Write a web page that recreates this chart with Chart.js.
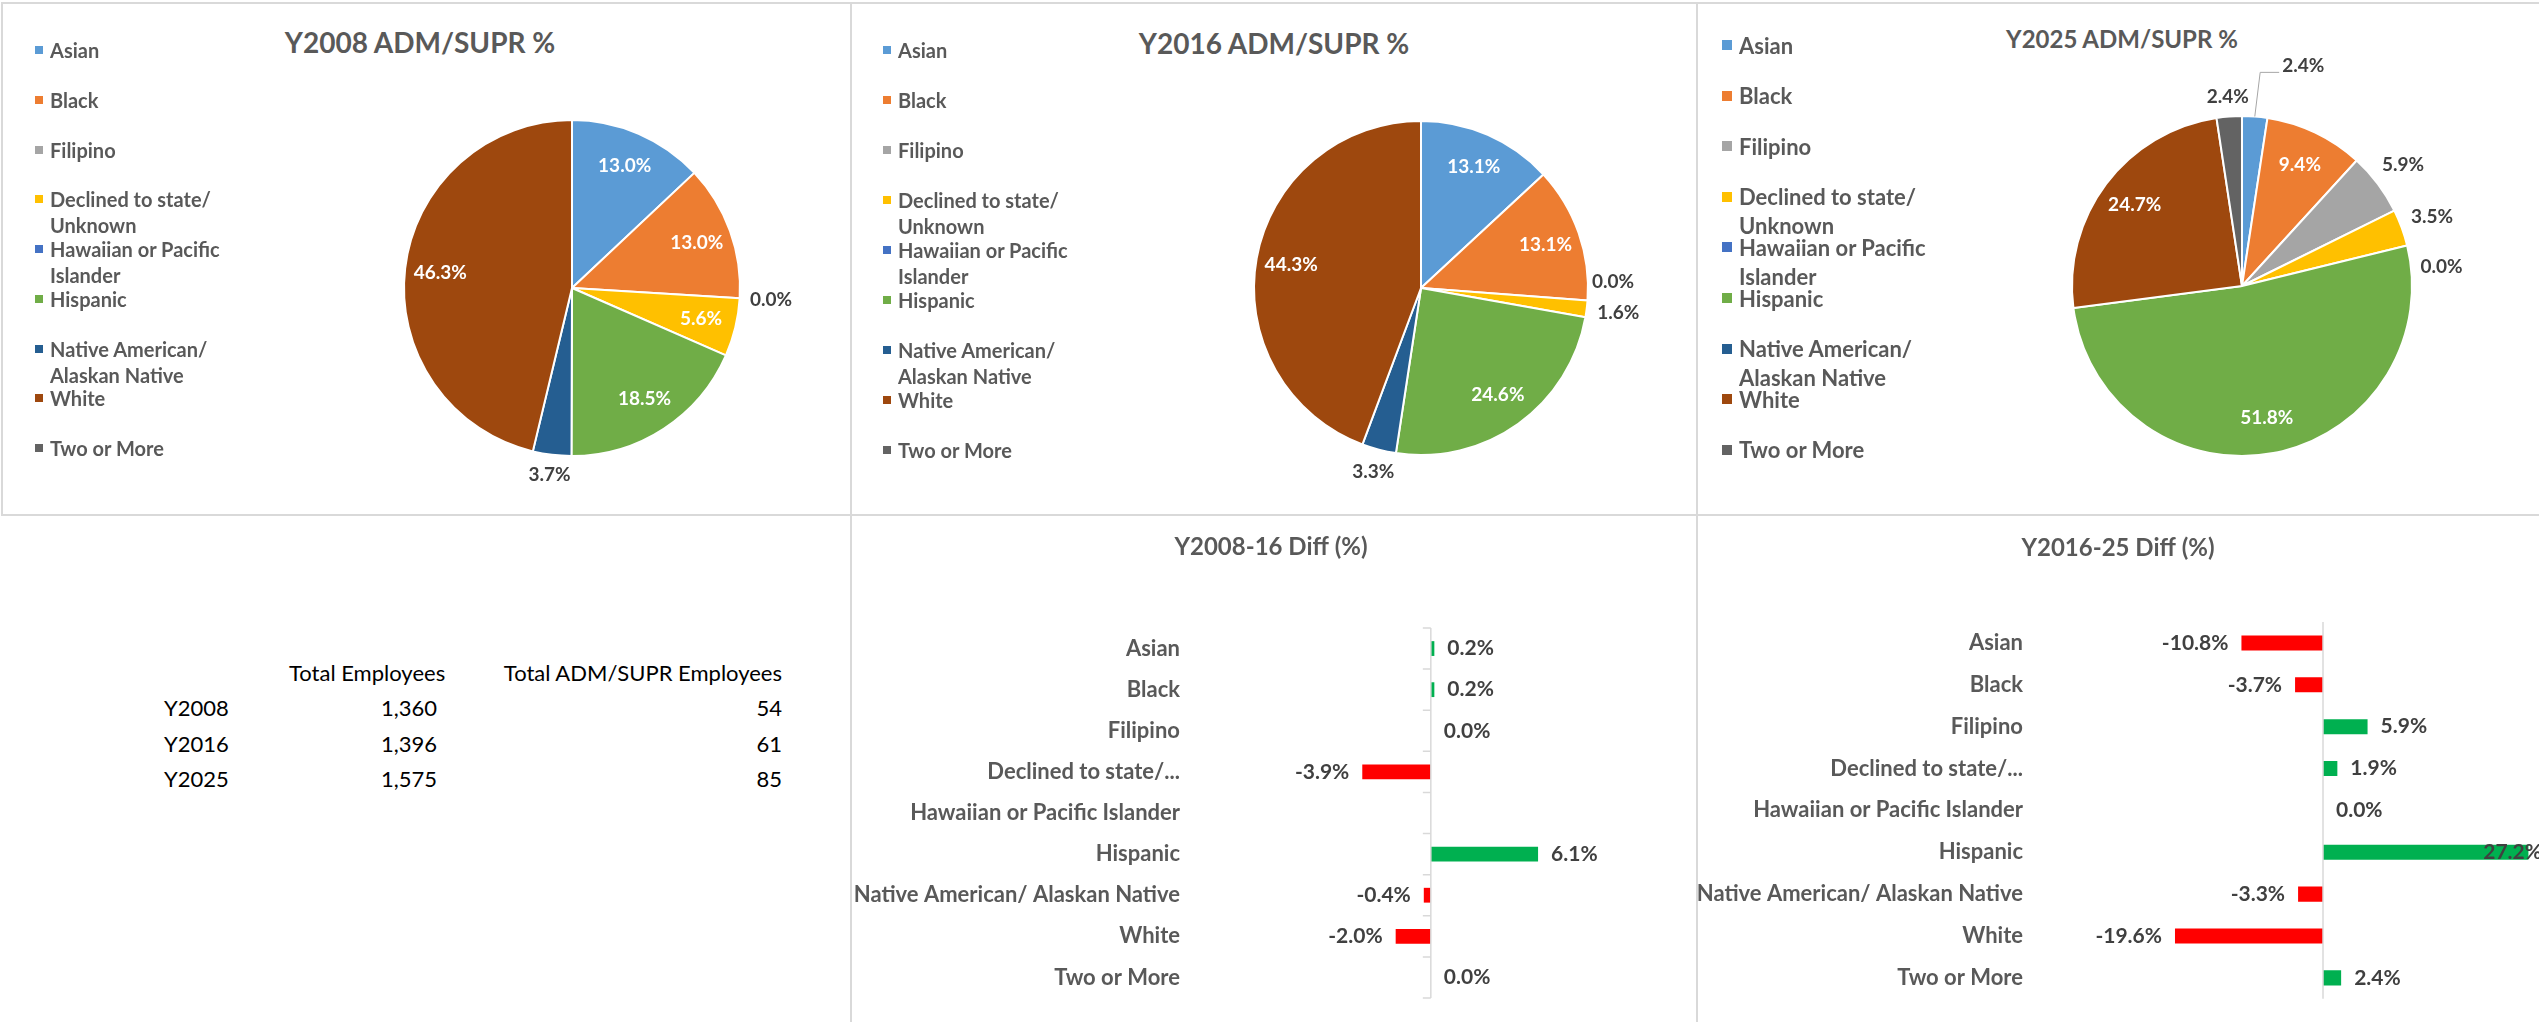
<!DOCTYPE html>
<html>
<head>
<meta charset="utf-8">
<script src="https://cdn.jsdelivr.net/npm/chart.js@4.4.1/dist/chart.umd.min.js"></script>
<style>
  body { margin: 0; width: 2539px; height: 1022px; background: #fff; position: relative; overflow: hidden; font-family: Lato, "Open Sans", sans-serif; }
  .ln { position: absolute; background: #d9d9d9; }
  canvas { position: absolute; }
  .ptitle { position: absolute; transform: translate(-50%, -50%); font-weight: bold; color: #595959; white-space: nowrap; }
  .lg { position: absolute; font-weight: bold; color: #595959; white-space: nowrap; }
  .lg .sw { position: absolute; }
  .cell { position: absolute; font-size: 22px; color: #000; white-space: nowrap; transform: translateY(-50%); }
</style>
</head>
<body>
<div class="ln" style="left:2px;top:2px;width:2537px;height:2px"></div>
<div class="ln" style="left:2px;top:514px;width:2537px;height:2px"></div>
<div class="ln" style="left:1px;top:2px;width:2px;height:514px"></div>
<div class="ln" style="left:850px;top:2px;width:2px;height:1020px"></div>
<div class="ln" style="left:1696px;top:2px;width:2px;height:1020px"></div>

<div class="ptitle" style="left:420px;top:42px;font-size:28px">Y2008 ADM/SUPR %</div>
<div class="ptitle" style="left:1274px;top:43px;font-size:28px">Y2016 ADM/SUPR %</div>
<div class="ptitle" style="left:2122px;top:38px;font-size:24px">Y2025 ADM/SUPR %</div>

<canvas id="pie2008" width="851" height="515" style="left:0;top:0"></canvas>
<canvas id="pie2016" width="846" height="515" style="left:851px;top:0"></canvas>
<canvas id="pie2025" width="842" height="515" style="left:1697px;top:0"></canvas>
<canvas id="diff0816" width="846" height="507" style="left:851px;top:515px"></canvas>
<canvas id="diff1625" width="842" height="507" style="left:1697px;top:515px"></canvas>

<script>
// ---- data ----
const categories = ['Asian', 'Black', 'Filipino', 'Declined to state/ Unknown', 'Hawaiian or Pacific Islander',
  'Hispanic', 'Native American/ Alaskan Native', 'White', 'Two or More'];
const barTickLabels = ['Asian', 'Black', 'Filipino', 'Declined to state/...', 'Hawaiian or Pacific Islander',
  'Hispanic', 'Native American/ Alaskan Native', 'White', 'Two or More'];

const pct2008 = [13.0, 13.0, 0.0, 5.6, null, 18.5, 3.7, 46.3, null];
const pct2016 = [13.1, 13.1, 0.0, 1.6, null, 24.6, 3.3, 44.3, null];
const pct2025 = [2.4, 9.4, 5.9, 3.5, 0.0, 51.8, null, 24.7, 2.4];

const diff0816 = [0.2, 0.2, 0.0, -3.9, null, 6.1, -0.4, -2.0, 0.0];
const diff1625 = [-10.8, -3.7, 5.9, 1.9, 0.0, 27.2, -3.3, -19.6, 2.4];

const years = ['Y2008', 'Y2016', 'Y2025'];
const totalEmployees = [1360, 1396, 1575];
const totalAdmSupr = [54, 61, 85];

const sliceColors = ['#5B9BD5', '#ED7D31', '#A5A5A5', '#FFC000', '#4472C4', '#70AD47', '#255E91', '#9E480E', '#636363'];

// ---- legends (html, excel-like spacing) ----
function buildLegend(o) {
  categories.forEach((name, i) => {
    const item = document.createElement('div');
    item.className = 'lg';
    item.style.left = o.x + 'px';
    item.style.top = (o.y0 + i * o.step - o.lh / 2) + 'px';
    item.style.fontSize = o.size + 'px';
    item.style.lineHeight = o.lh + 'px';
    const sw = document.createElement('span');
    sw.className = 'sw';
    sw.style.background = sliceColors[i];
    sw.style.width = sw.style.height = o.sw + 'px';
    sw.style.left = (-o.gap) + 'px';
    sw.style.top = ((o.lh - o.sw) / 2) + 'px';
    const txt = document.createElement('span');
    txt.innerHTML = name.replace('/ ', '/<br>').replace('Pacific ', 'Pacific<br>');
    item.append(sw, txt);
    document.body.append(item);
  });
}
buildLegend({ x: 50, y0: 50, step: 49.75, lh: 26, size: 20, sw: 8, gap: 15 });
buildLegend({ x: 898, y0: 49.5, step: 50, lh: 26, size: 20, sw: 8, gap: 15 });
buildLegend({ x: 1739, y0: 45, step: 50.6, lh: 29, size: 22, sw: 10, gap: 17 });

// ---- table ----
function cell(text, x, y, align) {
  const d = document.createElement('div');
  d.className = 'cell';
  d.textContent = text;
  d.style.top = y + 'px';
  if (align === 'right') d.style.right = (2539 - x) + 'px'; else d.style.left = x + 'px';
  document.body.append(d);
}
cell('Total Employees', 289, 672);
cell('Total ADM/SUPR Employees', 782, 672, 'right');
years.forEach((yr, i) => {
  const y = 707 + i * 35.5;
  cell(yr, 164, y);
  cell(totalEmployees[i].toLocaleString('en-US'), 437, y, 'right');
  cell(String(totalAdmSupr[i]), 782, y, 'right');
});

// ---- pie charts ----
function pieLabelPlugin(cfg) {
  return {
    id: 'pieLabels',
    afterDatasetsDraw(chart) {
      const ctx = chart.ctx;
      const values = chart.data.datasets[0].data;
      ctx.save();
      ctx.font = 'bold ' + cfg.size + 'px Lato, sans-serif';
      ctx.textAlign = 'center';
      ctx.textBaseline = 'middle';
      chart.getDatasetMeta(0).data.forEach((arc, i) => {
        const v = values[i];
        if (v === null) return;
        const p = arc.getProps(['x', 'y', 'startAngle', 'endAngle', 'outerRadius'], true);
        const mid = (p.startAngle + p.endAngle) / 2;
        const cos = Math.cos(mid), sin = Math.sin(mid);
        const txt = v.toFixed(1) + '%';
        const w = ctx.measureText(txt).width, h = cfg.size * 0.8;
        let x, y;
        if (cfg.outside.includes(i)) {
          const d = p.outerRadius + 10 + Math.abs(cos) * w / 2 + Math.abs(sin) * h / 2;
          x = p.x + cos * d;
          y = p.y + sin * d;
          const n = cfg.nudge[i];
          if (n) {
            x += n[0];
            y += n[1];
            if (n[2]) {
              ctx.strokeStyle = '#a6a6a6';
              ctx.lineWidth = 1;
              ctx.beginPath();
              ctx.moveTo(p.x + cos * p.outerRadius, p.y + sin * p.outerRadius);
              ctx.lineTo(x - w / 2 - 22, y + 6);
              ctx.lineTo(x - w / 2 - 3, y + 6);
              ctx.stroke();
            }
          }
          ctx.fillStyle = '#404040';
        } else {
          const d = p.outerRadius * 0.79;
          x = p.x + cos * d;
          y = p.y + sin * d;
          ctx.fillStyle = '#ffffff';
        }
        ctx.fillText(txt, x, y);
      });
      ctx.restore();
    }
  };
}

function pieChart(id, values, cfg) {
  const c = document.getElementById(id);
  const W = c.width, H = c.height;
  new Chart(c, {
    type: 'pie',
    data: {
      labels: categories,
      datasets: [{ data: values, backgroundColor: sliceColors, borderColor: '#ffffff', borderWidth: 2 }]
    },
    options: {
      responsive: false,
      animation: false,
      layout: { padding: { left: cfg.cx - cfg.r, right: W - cfg.cx - cfg.r, top: cfg.cy - cfg.r, bottom: H - cfg.cy - cfg.r } },
      plugins: { legend: { display: false }, tooltip: { enabled: false } }
    },
    plugins: [pieLabelPlugin(cfg)]
  });
}

pieChart('pie2008', pct2008, { cx: 572, cy: 288, r: 169, size: 19, outside: [2, 6], nudge: {} });
pieChart('pie2016', pct2016, { cx: 570, cy: 288, r: 168, size: 19, outside: [2, 3, 6], nudge: { 2: [-6, -21] } });
pieChart('pie2025', pct2025, { cx: 545, cy: 286, r: 171, size: 19, outside: [0, 2, 3, 4, 8], nudge: { 0: [47, -31, true], 4: [3, 29] } });

// ---- diff bar charts ----
function barExtras(showTicks) {
  return {
    id: 'barExtras',
    afterDatasetsDraw(chart) {
      const { ctx, chartArea } = chart;
      const xs = chart.scales.x, ys = chart.scales.y;
      const zero = xs.getPixelForValue(0);
      ctx.save();
      ctx.strokeStyle = '#d9d9d9';
      ctx.lineWidth = 1.5;
      ctx.beginPath();
      ctx.moveTo(zero, chartArea.top);
      ctx.lineTo(zero, chartArea.bottom);
      if (showTicks) {
        for (let i = 0; i <= ys.ticks.length; i++) {
          const py = ys.getPixelForValue(i - 0.5);
          ctx.moveTo(zero - 8, py);
          ctx.lineTo(zero, py);
        }
      }
      ctx.stroke();

      const values = chart.data.datasets[0].data;
      ctx.font = 'bold 21px Lato, sans-serif';
      ctx.fillStyle = '#404040';
      ctx.textBaseline = 'middle';
      chart.getDatasetMeta(0).data.forEach((bar, i) => {
        const v = values[i];
        if (v === null) return;
        const p = bar.getProps(['x', 'y'], true);
        const txt = v.toFixed(1) + '%';
        const w = ctx.measureText(txt).width;
        if (v < 0) {
          ctx.textAlign = 'right';
          ctx.fillText(txt, p.x - 13, p.y);
        } else {
          ctx.textAlign = 'left';
          ctx.fillText(txt, Math.min(p.x + 13, chart.width - w + 3), p.y);
        }
      });
      ctx.restore();
    }
  };
}

function diffChart(id, values, cfg) {
  new Chart(document.getElementById(id), {
    type: 'bar',
    data: {
      labels: barTickLabels,
      datasets: [{
        data: values,
        backgroundColor: values.map(v => v < 0 ? '#FF0000' : '#00B050'),
        barPercentage: 0.36,
        categoryPercentage: 1
      }]
    },
    options: {
      indexAxis: 'y',
      responsive: false,
      animation: false,
      layout: { padding: { top: 0, right: cfg.padRight, bottom: cfg.padBottom, left: 0 } },
      scales: {
        x: { display: false, min: cfg.min, max: cfg.max },
        y: {
          grid: { display: false, drawTicks: false },
          border: { display: false },
          ticks: { color: '#595959', font: { family: 'Lato', size: 22, weight: 'bold' }, padding: 10, autoSkip: false },
          afterFit: s => { s.width = cfg.axisWidth; }
        }
      },
      plugins: {
        legend: { display: false },
        tooltip: { enabled: false },
        title: {
          display: true,
          text: cfg.title,
          color: '#595959',
          font: { family: 'Lato', size: 24, weight: 'bold' },
          padding: { top: cfg.titleTop, bottom: cfg.titleBottom }
        }
      }
    },
    plugins: [barExtras(cfg.ticks)]
  });
}

diffChart('diff0816', diff0816, { title: 'Y2008-16 Diff (%)', min: -13.7, max: 14.8, axisWidth: 339, padRight: 6, padBottom: 24, titleTop: 17.6, titleBottom: 66.6, ticks: true });
diffChart('diff1625', diff1625, { title: 'Y2016-25 Diff (%)', min: -38.4, max: 28.6, axisWidth: 336, padRight: 0, padBottom: 22, titleTop: 18.6, titleBottom: 59.6, ticks: false });
</script>
</body>
</html>
